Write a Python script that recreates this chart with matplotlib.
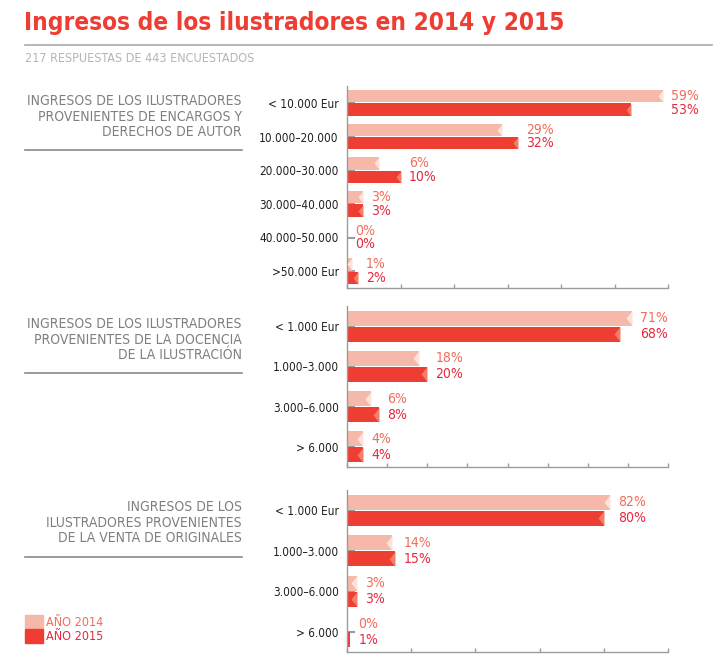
import matplotlib
matplotlib.use("Agg")
import matplotlib.pyplot as plt
from matplotlib.lines import Line2D
from matplotlib.patches import Patch

plt.rcParams['font.family'] = ['DejaVu Sans']
plt.rcParams['font.stretch'] = 'condensed'

title = "Ingresos de los ilustradores en 2014 y 2015"
subtitle = "217 RESPUESTAS DE 443 ENCUESTADOS"

panel_titles = [
    "INGRESOS DE LOS ILUSTRADORES\nPROVENIENTES DE ENCARGOS Y\nDERECHOS DE AUTOR",
    "INGRESOS DE LOS ILUSTRADORES\nPROVENIENTES DE LA DOCENCIA\nDE LA ILUSTRACIÓN",
    "INGRESOS DE LOS\nILUSTRADORES PROVENIENTES\nDE LA VENTA DE ORIGINALES",
]

cats_encargos = ["< 10.000 Eur", "10.000–20.000", "20.000–30.000",
                 "30.000–40.000", "40.000–50.000", ">50.000 Eur"]
encargos_2014 = [59, 29, 6, 3, 0, 1]
encargos_2015 = [53, 32, 10, 3, 0, 2]

cats_docencia = ["< 1.000 Eur", "1.000–3.000", "3.000–6.000", "> 6.000"]
docencia_2014 = [71, 18, 6, 4]
docencia_2015 = [68, 20, 8, 4]

cats_originales = ["< 1.000 Eur", "1.000–3.000", "3.000–6.000", "> 6.000"]
originales_2014 = [82, 14, 3, 0]
originales_2015 = [80, 15, 3, 1]

xmax_list = [60, 80, 100]
xstep_list = [10, 10, 20]

c14 = "#F6B9A9"
c15 = "#EE3D33"
notch14 = "#FCE3DB"
notch15 = "#F47E66"
txt14 = "#F26C5A"
txt15 = "#E6283E"
axis_gray = "#9C9C9C"

W, H = 724, 671
fig = plt.figure(figsize=(W / 100, H / 100), dpi=100)

def fx(px):
    return px / W

def fy(py):
    return 1 - py / H

# title block
fig.text(fx(24), fy(23), title, color=c15, fontsize=17.5, fontweight="bold",
         va="center", ha="left")
fig.add_artist(Line2D([fx(25), fx(712)], [fy(45), fy(45)], color="#AAAAAA", lw=1.2))
fig.text(fx(25), fy(59), subtitle, color="#B5B5B5", fontsize=9, va="center", ha="left")

# axes boxes (top, bottom) in pixels
boxes = [(86, 288), (306, 467), (490, 652)]
title_y = [101, 324, 507]
sep_y = [150, 373, 557]
data = [
    (cats_encargos, encargos_2014, encargos_2015),
    (cats_docencia, docencia_2014, docencia_2015),
    (cats_originales, originales_2014, originales_2015),
]

notch = [(-0.8, 0), (0, 1), (0, -1)]
bh = 0.37
off = 0.2
ax_w = 668 - 347

for i, (cats, v14, v15) in enumerate(data):
    top, bot = boxes[i]
    ax = fig.add_axes([fx(347), fy(bot), fx(668) - fx(347), (bot - top) / H])
    n = len(cats)
    y = list(range(n))
    y14 = [k - off for k in y]
    y15 = [k + off for k in y]
    ax.barh(y14, v14, height=bh, color=c14, zorder=2)
    ax.barh(y15, v15, height=bh, color=c15, zorder=2)
    ms = bh * (bot - top) / n * 0.72
    min_v = 5 * xmax_list[i] / ax_w  # notch only on bars wider than ~5 px
    for k in range(n):
        if v14[k] >= min_v:
            ax.plot(v14[k], y14[k], marker=notch, ms=ms, color=notch14,
                    mec="none", ls="none", zorder=3, clip_on=False)
        if v15[k] >= min_v:
            ax.plot(v15[k], y15[k], marker=notch, ms=ms, color=notch15,
                    mec="none", ls="none", zorder=3, clip_on=False)
        xl = max(v14[k], v15[k])
        ax.annotate(f"{v14[k]}%", (xl, y14[k]), xytext=(6, 0), textcoords="offset points",
                    color=txt14, fontsize=10, va="center", ha="left", annotation_clip=False)
        ax.annotate(f"{v15[k]}%", (xl, y15[k]), xytext=(6, 0), textcoords="offset points",
                    color=txt15, fontsize=10, va="center", ha="left", annotation_clip=False)
    ax.set_xlim(0, xmax_list[i])
    ax.set_ylim(n - 0.5, -0.5)
    ax.set_xticks(range(0, xmax_list[i] + 1, xstep_list[i]))
    ax.set_xticklabels([])
    ax.set_yticks(y)
    ax.set_yticklabels(cats, color="#231F20", fontsize=8.5)
    ax.tick_params(axis="x", direction="in", length=3, color=axis_gray, width=1)
    ax.tick_params(axis="y", direction="in", length=6, color=axis_gray, width=1.5, pad=6)
    for s in ["top", "right"]:
        ax.spines[s].set_visible(False)
    for s in ["left", "bottom"]:
        ax.spines[s].set_color(axis_gray)
        ax.spines[s].set_linewidth(1)

    fig.text(fx(242), fy(title_y[i] - 7), panel_titles[i], color="#7F7F7F",
             fontsize=10, ha="right", va="top", multialignment="right", linespacing=1.15)
    fig.add_artist(Line2D([fx(25), fx(242)], [fy(sep_y[i]), fy(sep_y[i])],
                          color="#8A8A8A", lw=1.2))

handles = [Patch(color=c14), Patch(color=c15)]
fig.legend(handles, ["AÑO 2014", "AÑO 2015"], loc="upper left",
           bbox_to_anchor=(fx(25), fy(615)), frameon=False, fontsize=9,
           labelcolor=[txt14, txt15], handlelength=1.4, handleheight=1.25,
           handletextpad=0.3, labelspacing=0.05, borderpad=0, borderaxespad=0)

fig.savefig("out.png", dpi=100)
